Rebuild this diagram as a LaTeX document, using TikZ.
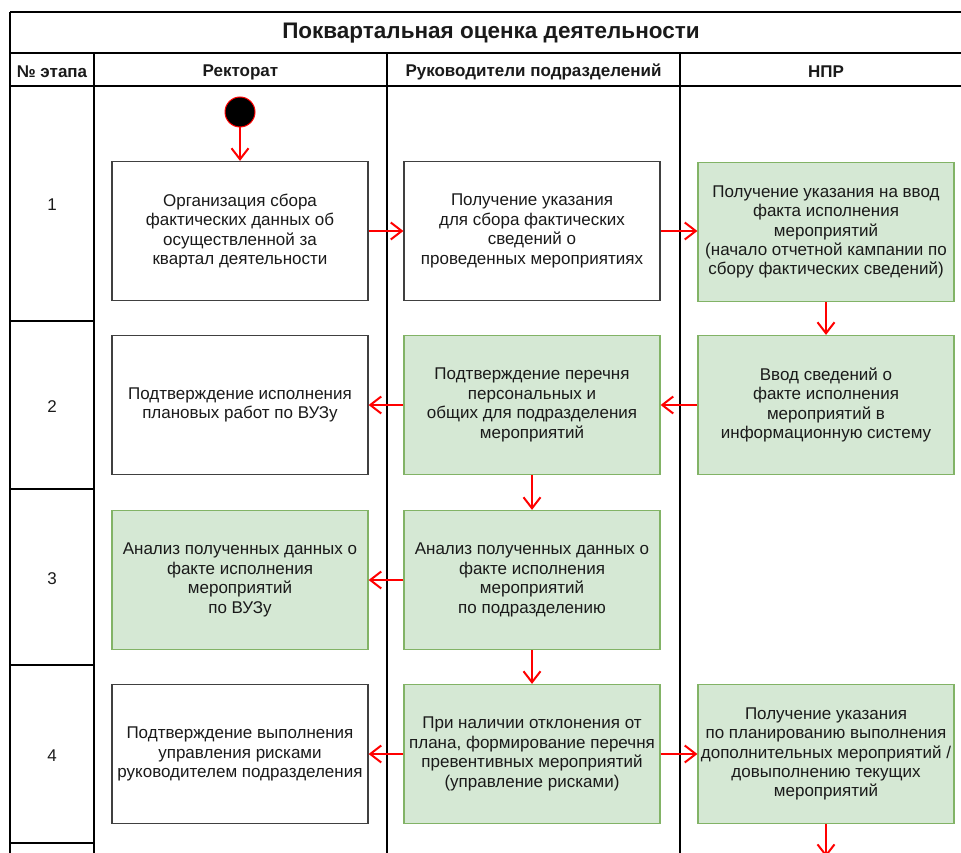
\documentclass[tikz,border=0pt]{standalone}
\usepackage{fontspec}
\setmainfont{Liberation Sans}
\usetikzlibrary{arrows.meta}
\definecolor{gfill}{HTML}{D5E8D4}
\definecolor{gline}{HTML}{82B366}
\definecolor{flow}{HTML}{FF0000}
\definecolor{ink}{HTML}{1A1A1A}
\tikzset{
  frame/.style={line width=1.3pt, draw=black},
  task/.style={draw=black!75, line width=1.2pt, fill=white, minimum width=256pt,
    minimum height=139pt, align=center, inner sep=2pt, text=ink,
    font=\fontsize{17}{19.4}\selectfont},
  taskg/.style={task, draw=gline, fill=gfill},
  flowarrow/.style={draw=flow, line width=2pt,
    -{Straight Barb[length=11pt,width=17pt,line width=2pt]}},
  hdr/.style={font=\bfseries\fontsize{17}{20}\selectfont, text=ink},
  stage/.style={font=\fontsize{17}{20}\selectfont, text=ink}
}
\begin{document}
\begin{tikzpicture}[x=1pt,y=-1pt]
\useasboundingbox (0,0) rectangle (961,853);
\clip (0,0) rectangle (961,853);

% table frame
\draw[frame] (10,12) -- (975,12);
\draw[frame] (10,53) -- (975,53);
\draw[frame] (10,86) -- (975,86);
\draw[frame] (10,12) -- (10,870);
\draw[frame] (94,53) -- (94,870);
\draw[frame] (387,53) -- (387,870);
\draw[frame] (680,53) -- (680,870);
\draw[frame] (972,12) -- (972,870);
% stage row separators
\foreach \yy in {321,489,665,843} \draw[frame] (10,\yy) -- (94,\yy);

% title and column headers
\node[font=\bfseries\fontsize{22.5}{26}\selectfont, text=ink] (title) at (491,33) {Поквартальная оценка деятельности};
\node[hdr] (hnum) at (52,72) {№ этапа};
\node[hdr] (hrect) at (240.5,72) {Ректорат};
\node[hdr] (hhead) at (533.5,72) {Руководители подразделений};
\node[hdr] (hnpr) at (826,72) {НПР};

% stage numbers
\node[stage] (s1) at (52,205) {1};
\node[stage] (s2) at (52,407) {2};
\node[stage] (s3) at (52,579) {3};
\node[stage] (s4) at (52,756) {4};

% start
\node[circle, fill=black, draw=flow, line width=1pt, minimum size=30pt, inner sep=0pt] (start) at (240,112) {};

% row 1
\node[task] (r1) at (240,231) {Организация сбора\\фактических данных об\\осуществленной за\\квартал деятельности};
\node[task] (m1) at (532,231) {Получение указания\\для сбора фактических\\сведений о\\проведенных мероприятиях};
\node[taskg] (n1) at (826,232) {Получение указания на ввод\\факта исполнения\\мероприятий\\(начало отчетной кампании по\\сбору фактических сведений)};

% row 2
\node[task] (r2) at (240,405) {Подтверждение исполнения\\плановых работ по ВУЗу};
\node[taskg] (m2) at (532,405) {Подтверждение перечня\\персональных и\\общих для подразделения\\мероприятий};
\node[taskg] (n2) at (826,405) {Ввод сведений о\\факте исполнения\\мероприятий в\\информационную систему};

% row 3
\node[taskg] (r3) at (240,580) {Анализ полученных данных о\\факте исполнения\\мероприятий\\по ВУЗу};
\node[taskg] (m3) at (532,580) {Анализ полученных данных о\\факте исполнения\\мероприятий\\по подразделению};

% row 4
\node[task] (r4) at (240,754) {Подтверждение выполнения\\управления рисками\\руководителем подразделения};
\node[taskg] (m4) at (532,754) {При наличии отклонения от\\плана, формирование перечня\\превентивных мероприятий\\(управление рисками)};
\node[taskg] (n4) at (826,754) {Получение указания\\по планированию выполнения\\дополнительных мероприятий /\\довыполнению текущих\\мероприятий};
\coordinate (next) at (826,857);

% flow
\draw[flowarrow] (start) -- (r1);
\draw[flowarrow] (r1) -- (m1);
\draw[flowarrow] (m1.east) -- (m1.east -| n1.west);
\draw[flowarrow] (n1) -- (n2);
\draw[flowarrow] (n2) -- (m2);
\draw[flowarrow] (m2) -- (r2);
\draw[flowarrow] (m2) -- (m3);
\draw[flowarrow] (m3) -- (r3);
\draw[flowarrow] (m3) -- (m4);
\draw[flowarrow] (m4) -- (r4);
\draw[flowarrow] (m4) -- (n4);
\draw[flowarrow] (n4) -- (next);
\end{tikzpicture}
\end{document}
